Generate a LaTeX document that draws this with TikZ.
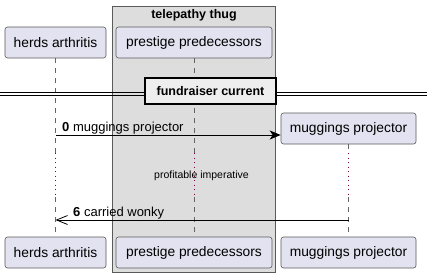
\documentclass[tikz,border=0pt]{standalone}
\usepackage{fontspec}
\setmainfont{Liberation Sans}
\usetikzlibrary{arrows.meta}

\definecolor{partFill}{RGB}{226,226,240}
\definecolor{partLine}{RGB}{90,90,90}
\definecolor{boxFill}{RGB}{221,221,221}
\definecolor{dividerFill}{RGB}{238,238,238}
\definecolor{lifeColor}{RGB}{100,100,100}
\definecolor{delayColor}{RGB}{128,0,64}

\tikzset{
  actor/.style={draw=partLine,fill=partFill,line width=0.6pt,rounded corners=2.5pt,
    inner sep=0pt,minimum height=31pt,font=\fontsize{13.8}{16}\selectfont},
  lifeline/.style={draw=lifeColor,line width=0.6pt,dash pattern=on 5pt off 5pt},
  delayline/.style={draw=delayColor,line width=0.9pt,dash pattern=on 1pt off 3.5pt},
  msg/.style={draw=black,line width=0.8pt},
  msglabel/.style={anchor=base west,inner sep=0pt,font=\fontsize{13}{15}\selectfont}
}

\begin{document}
\begin{tikzpicture}[x=1pt,y=-1pt]
\path[use as bounding box,fill=white] (0,0) rectangle (427,278);

% box around the middle participant
\path[draw=partLine,line width=0.6pt,fill=boxFill] (112.5,6.5) rectangle (275.5,272.5);
\node[font=\bfseries\fontsize{12.5}{15}\selectfont,inner sep=0pt] (thug) at (194,15) {telepathy thug};

% participants, top and bottom
\node[actor,minimum width=101pt] (ha) at (55.5,42.5) {herds arthritis};
\node[actor,minimum width=156pt] (pp) at (194,42.5) {prestige predecessors};
\node[actor,minimum width=135pt] (mp) at (348.5,128.5) {muggings projector};
\node[actor,minimum width=101pt] (ha2) at (55.5,252.5) {herds arthritis};
\node[actor,minimum width=156pt] (pp2) at (194,252.5) {prestige predecessors};
\node[actor,minimum width=135pt] (mp2) at (348.5,252.5) {muggings projector};

% lifelines, dotted while the delay lasts
\coordinate (haA) at (55.5,153);  \coordinate (haB) at (55.5,197);
\coordinate (ppA) at (194,153);   \coordinate (ppB) at (194,197);
\coordinate (mpA) at (348.5,153); \coordinate (mpB) at (348.5,197);
\draw[lifeline] (ha.south) -- (haA);
\draw[lifeline] (haB) -- (ha2.north);
\draw[lifeline] (pp.south) -- (ppA);
\draw[lifeline] (ppB) -- (pp2.north);
\draw[lifeline] (mp.south) -- (mpA);
\draw[lifeline] (mpB) -- (mp2.north);
\draw[delayline] (haA) -- (haB);
\draw[delayline] (ppA) -- (ppB);
\draw[delayline] (mpA) -- (mpB);

% divider
\path[draw=black,line width=0.9pt] (0,92) -- (427,92);
\path[draw=black,line width=0.9pt] (0,95) -- (427,95);
\node[draw=black,line width=1.6pt,fill=dividerFill,minimum width=131pt,minimum height=26pt,
  inner sep=0pt,font=\bfseries\fontsize{12.5}{15}\selectfont] (div) at (210.5,91) {fundraiser current};

% messages
\coordinate (m0a) at (55.5,135);
\coordinate (m0b) at (mp.west |- m0a);
\draw[msg,-{Stealth[length=11pt,width=9pt,inset=3pt]}] (m0a) -- (m0b);
\node[msglabel] (l0) at (62,131) {\textbf{0} muggings projector};

\node[font=\fontsize{10.5}{12}\selectfont,inner sep=0pt] (delay) at (201.5,176) {profitable imperative};

\coordinate (m6a) at (348.5,220);
\coordinate (m6b) at (55.5,220);
\draw[msg,-{Straight Barb[length=11pt,width=9pt,line width=0.8pt]}] (m6a) -- (m6b);
\node[msglabel] (l6) at (73,216) {\textbf{6} carried wonky};
\end{tikzpicture}
\end{document}
